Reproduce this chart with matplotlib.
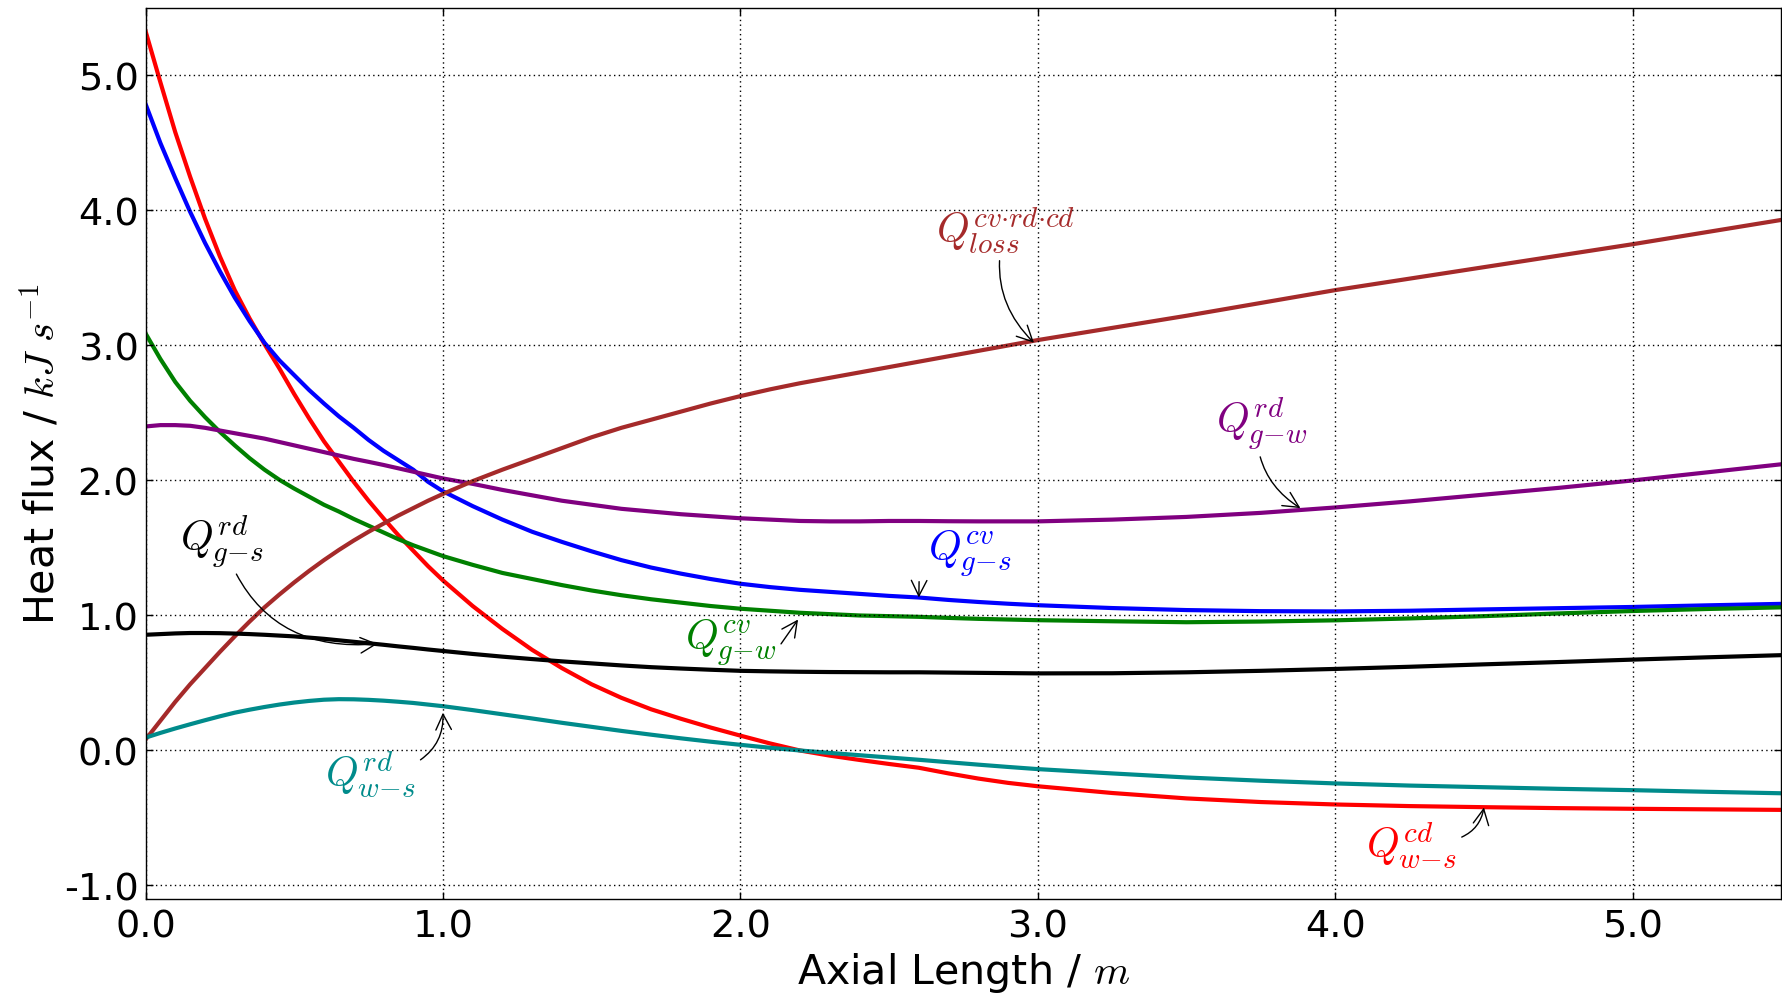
import matplotlib
matplotlib.use("Agg")
import matplotlib.pyplot as plt
from matplotlib.ticker import FixedLocator, FuncFormatter

plt.rcParams['mathtext.fontset'] = 'cm'
plt.rcParams['font.family'] = ['DejaVu Sans']
plt.rcParams['axes.unicode_minus'] = False

# ---------------- data ----------------
axial_length = [0.00, 0.05, 0.10, 0.15, 0.20, 0.25, 0.30, 0.35, 0.40, 0.45, 0.50,
                0.55, 0.60, 0.65, 0.70, 0.75, 0.80, 0.85, 0.90, 0.95, 1.00,
                1.1, 1.2, 1.3, 1.4, 1.5, 1.6, 1.7, 1.8, 1.9, 2.0,
                2.1, 2.2, 2.3, 2.4, 2.5, 2.6, 2.7, 2.8, 2.9, 3.0,
                3.25, 3.5, 3.75, 4.0, 4.25, 4.5, 4.75, 5.0, 5.25, 5.5]

q_ws_cd = [5.33, 4.95, 4.58, 4.25, 3.94, 3.66, 3.41, 3.20, 3.01, 2.83, 2.64,
           2.46, 2.29, 2.14, 1.99, 1.85, 1.72, 1.595, 1.48, 1.365, 1.26,
           1.07, 0.90, 0.745, 0.61, 0.49, 0.39, 0.305, 0.235, 0.17, 0.11,
           0.052, 0.0, -0.038, -0.07, -0.10, -0.128, -0.17, -0.208, -0.24, -0.265,
           -0.315, -0.355, -0.382, -0.40, -0.412, -0.42, -0.427, -0.432, -0.436, -0.44]
q_gs_cv = [4.79, 4.50, 4.24, 3.99, 3.76, 3.55, 3.355, 3.18, 3.02, 2.89, 2.78,
           2.67, 2.57, 2.475, 2.39, 2.30, 2.22, 2.15, 2.08, 1.99, 1.92,
           1.81, 1.71, 1.62, 1.545, 1.475, 1.41, 1.355, 1.31, 1.27, 1.235,
           1.21, 1.19, 1.175, 1.16, 1.145, 1.133, 1.115, 1.10, 1.087, 1.076,
           1.055, 1.04, 1.032, 1.03, 1.035, 1.045, 1.054, 1.063, 1.075, 1.086]
q_gw_cv = [3.09, 2.90, 2.73, 2.59, 2.47, 2.36, 2.26, 2.165, 2.08, 2.005, 1.94,
           1.88, 1.82, 1.77, 1.715, 1.665, 1.615, 1.565, 1.52, 1.48, 1.44,
           1.375, 1.315, 1.27, 1.225, 1.185, 1.15, 1.12, 1.095, 1.07, 1.05,
           1.035, 1.02, 1.01, 1.00, 0.995, 0.99, 0.982, 0.975, 0.97, 0.965,
           0.957, 0.95, 0.955, 0.964, 0.978, 0.995, 1.015, 1.033, 1.048, 1.06]
q_gw_rd = [2.40, 2.41, 2.41, 2.405, 2.39, 2.37, 2.35, 2.33, 2.31, 2.285, 2.26,
           2.235, 2.21, 2.185, 2.16, 2.138, 2.115, 2.09, 2.065, 2.04, 2.015,
           1.975, 1.93, 1.89, 1.85, 1.82, 1.79, 1.77, 1.75, 1.735, 1.72,
           1.71, 1.70, 1.697, 1.697, 1.70, 1.70, 1.698, 1.697, 1.697, 1.697,
           1.71, 1.73, 1.76, 1.80, 1.845, 1.895, 1.945, 2.00, 2.06, 2.12]
q_loss = [0.08, 0.22, 0.36, 0.49, 0.61, 0.73, 0.845, 0.955, 1.06, 1.155, 1.245,
          1.33, 1.41, 1.485, 1.555, 1.62, 1.68, 1.74, 1.795, 1.85, 1.90,
          1.995, 2.08, 2.16, 2.24, 2.32, 2.39, 2.45, 2.51, 2.57, 2.625,
          2.675, 2.72, 2.76, 2.80, 2.84, 2.88, 2.92, 2.96, 3.00, 3.04,
          3.13, 3.22, 3.315, 3.41, 3.495, 3.58, 3.665, 3.75, 3.84, 3.93]
q_gs_rd = [0.857, 0.862, 0.867, 0.87, 0.87, 0.869, 0.866, 0.862, 0.857, 0.851, 0.845,
           0.836, 0.827, 0.816, 0.805, 0.794, 0.783, 0.771, 0.76, 0.748, 0.737,
           0.715, 0.695, 0.677, 0.66, 0.645, 0.63, 0.617, 0.607, 0.598, 0.59,
           0.586, 0.583, 0.581, 0.58, 0.579, 0.579, 0.577, 0.575, 0.573, 0.571,
           0.572, 0.579, 0.59, 0.604, 0.62, 0.638, 0.655, 0.673, 0.69, 0.706]
q_ws_rd = [0.095, 0.13, 0.163, 0.194, 0.224, 0.253, 0.28, 0.302, 0.322, 0.34, 0.355,
           0.367, 0.376, 0.38, 0.379, 0.375, 0.369, 0.361, 0.352, 0.34, 0.328,
           0.299, 0.268, 0.237, 0.205, 0.175, 0.145, 0.117, 0.09, 0.065, 0.042,
           0.02, 0.0, -0.018, -0.035, -0.052, -0.069, -0.087, -0.105, -0.122, -0.138,
           -0.17, -0.20, -0.224, -0.244, -0.26, -0.272, -0.284, -0.294, -0.306, -0.317]

x_ticks = [0.0, 1.0, 2.0, 3.0, 4.0, 5.0]
y_ticks = [-1.0, 0.0, 1.0, 2.0, 3.0, 4.0, 5.0]

series = [
    (q_ws_cd, 'red'),
    (q_gs_cv, 'blue'),
    (q_gw_cv, 'green'),
    (q_gw_rd, 'purple'),
    (q_loss, 'brown'),
    (q_gs_rd, 'black'),
    (q_ws_rd, '#008b8b'),
]

# label text, text centre, arrow target, colour, curvature, arrow start (relative to text box)
annotations = [
    (r'$Q_{g{-}s}^{rd}$', (0.258, 1.56), (0.78, 0.79), 'black', 0.4, (0.5, 0.5)),
    (r'$Q_{w{-}s}^{rd}$', (0.755, -0.17), (1.0, 0.28), '#008b8b', 0.3, (1.0, 0.7)),
    (r'$Q_{g{-}w}^{cv}$', (1.968, 0.80), (2.194, 0.97), 'green', 0.0, (1.0, 0.35)),
    (r'$Q_{g{-}s}^{cv}$', (2.77, 1.46), (2.60, 1.133), 'blue', 0.0, (-0.1, 0.0)),
    (r'$Q_{loss}^{cv{\cdot}rd{\cdot}cd}$', (2.89, 3.86), (2.987, 3.02), 'brown', 0.3, (0.5, 0.5)),
    (r'$Q_{g{-}w}^{rd}$', (3.753, 2.43), (3.883, 1.795), 'purple', 0.3, (0.45, 0.5)),
    (r'$Q_{w{-}s}^{cd}$', (4.255, -0.695), (4.50, -0.422), 'red', 0.3, (1.0, 0.6)),
]

# ---------------- figure ----------------
fig = plt.figure(figsize=(17.82, 9.95), dpi=100)
ax = fig.add_axes([0.08165, 0.0955, 0.9180, 0.8955])

for vals, col in series:
    ax.plot(axial_length, vals, color=col, lw=3.0)

for txt, tpos, xy, col, rad, rel in annotations:
    ax.annotate(txt, xy=xy, xytext=tpos, ha='center', va='center',
                fontsize=30, color=col,
                arrowprops=dict(arrowstyle='->', color='black', lw=1.0,
                                connectionstyle=f'arc3,rad={rad}',
                                relpos=rel, shrinkA=2, shrinkB=0,
                                mutation_scale=28))

ax.set_xlim(0, 5.5)
ax.set_ylim(-1.1, 5.5)
ax.xaxis.set_major_locator(FixedLocator(x_ticks))
ax.yaxis.set_major_locator(FixedLocator(y_ticks))
ax.xaxis.set_major_formatter(FuncFormatter(lambda v, p: f"{v:.1f}"))
ax.yaxis.set_major_formatter(FuncFormatter(lambda v, p: f"{v:.1f}"))

ax.set_axisbelow(False)
ax.grid(True, color='black', linestyle=(0, (1, 2.4)), linewidth=1.0)
ax.tick_params(direction='in', length=5, width=1, top=True, right=True,
               labelsize=27.5)
ax.tick_params(axis='x', pad=7)
ax.tick_params(axis='y', pad=5)
for sp in ax.spines.values():
    sp.set_linewidth(1.0)

ax.set_xlabel(r'Axial Length / $m$', fontsize=29.6, labelpad=4)
ax.set_ylabel(r'Heat flux / $kJ\ s^{-1}$', fontsize=29.6, labelpad=0)

fig.savefig('out.png', dpi=100)
